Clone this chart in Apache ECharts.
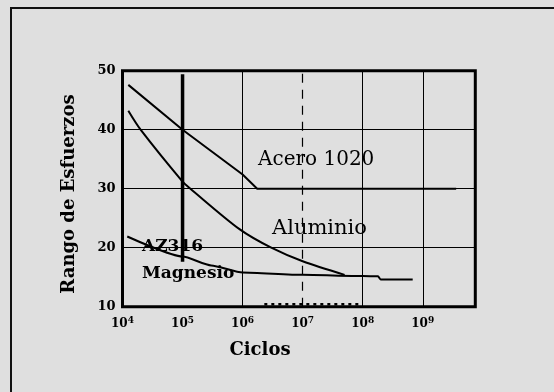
<!DOCTYPE html>
<html>
<head>
<meta charset="utf-8">
<script src="https://cdn.jsdelivr.net/npm/echarts@6/dist/echarts.min.js"></script>
<style>
html,body{margin:0;padding:0;background:#dfdfdf;}
#chart{width:554px;height:392px;}
</style>
</head>
<body>
<div id="chart"></div>
<script>
// ---- data ----
const yTicks = [10, 20, 30, 40, 50];
const xTickExponents = [4, 5, 6, 7, 8, 9];

const cyclesAcero = [1.25e4, 1e5, 1e6, 1.75e6, 3.6e9];
const acero = [47.6, 40, 32.4, 30, 30];

const cyclesAluminio = [1.25e4, 2e4, 1e5, 1.35e5, 9e5, 3e6, 1e7, 5e7];
const aluminio = [43.2, 40, 31.2, 30, 23.1, 20, 17.7, 15.4];

const cyclesMagnesio = [1.2e4, 1e5, 3e5, 1e6, 1e7, 1e8, 1.8e8, 2e8, 6.8e8];
const magnesio = [21.9, 18.5, 17.0, 15.8, 15.4, 15.2, 15.15, 14.6, 14.6];

const cyclesMarker = [1e5, 1e5];
const marker = [49.4, 17.6];

const cyclesBottomDots = [2.3e6, 8.5e7];
const bottomDots = [10.4, 10.4];

const solidVerticals = [1e6, 1e8, 1e9];
const dashedVerticals = [1e7];

function pairs(xs, ys) { return xs.map((x, i) => [x, ys[i]]); }

const chart = echarts.init(document.getElementById('chart'), null, {renderer: 'canvas'});
const serif = '"DejaVu Serif", "Liberation Serif", serif';

const option = {
  backgroundColor: '#dfdfdf',
  animation: false,
  grid: {
    left: 122.5, top: 70.7, right: 78.7, bottom: 85.3,
    show: true, borderColor: '#000', borderWidth: 3, backgroundColor: 'transparent'
  },
  xAxis: {
    type: 'log', logBase: 10, min: 1e4, max: Math.pow(10, 9.875),
    axisLine: {show: false}, axisTick: {show: false},
    splitLine: {show: false},
    axisLabel: {
      margin: 9,
      showMaxLabel: false,
      formatter: function (v) {
        const e = Math.round(Math.log10(v));
        if (Math.abs(Math.log10(v) - e) > 1e-6 || xTickExponents.indexOf(e) < 0) return '';
        return '{b|10}{s|' + e + '}';
      },
      rich: {
        b: {fontFamily: serif, fontSize: 12, fontWeight: 'bold', color: '#000'},
        s: {fontFamily: serif, fontSize: 9, fontWeight: 'bold', color: '#000', verticalAlign: 'bottom', padding: [0, 0, 7, 0]}
      }
    }
  },
  yAxis: {
    type: 'value', min: yTicks[0], max: yTicks[yTicks.length - 1], interval: 10,
    axisLine: {show: false}, axisTick: {show: false},
    splitLine: {show: true, lineStyle: {color: '#000', width: 1}},
    axisLabel: {margin: 7, fontFamily: serif, fontSize: 13, fontWeight: 'bold', color: '#000'}
  },
  series: [
    {
      type: 'line', data: pairs(cyclesAcero, acero), symbol: 'none',
      lineStyle: {color: '#000', width: 2},
      markLine: {
        silent: true, symbol: 'none', label: {show: false},
        lineStyle: {color: '#000', width: 1, type: 'solid'},
        data: solidVerticals.map(v => ({xAxis: v}))
          .concat(dashedVerticals.map(v => ({xAxis: v, lineStyle: {type: [9, 7], width: 1.2, color: '#000'}})))
      },
      z: 3
    },
    {
      type: 'line', data: pairs(cyclesAluminio, aluminio), symbol: 'none', smooth: 0.3,
      lineStyle: {color: '#000', width: 2}, z: 3
    },
    {
      type: 'line', data: pairs(cyclesMagnesio, magnesio), symbol: 'none', smooth: 0.2, smoothMonotone: 'x',
      lineStyle: {color: '#000', width: 2}, z: 3
    },
    {
      type: 'line', data: pairs(cyclesMarker, marker), symbol: 'none',
      lineStyle: {color: '#000', width: 3.5}, z: 3
    },
    {
      type: 'line', data: pairs(cyclesBottomDots, bottomDots), symbol: 'none',
      lineStyle: {color: '#000', width: 2.5, type: [3, 4]}, z: 3
    }
  ],
  graphic: [
    {type: 'rect', shape: {x: 11, y: 8, width: 700, height: 600}, style: {fill: 'none', stroke: '#111', lineWidth: 2}, z: 0},
    {type: 'text', x: 258, y: 160, style: {text: 'Acero 1020', font: 'normal 20px ' + serif, fill: '#000', textVerticalAlign: 'middle'}, z: 10},
    {type: 'text', x: 272, y: 229, style: {text: 'Aluminio', font: 'normal 21px ' + serif, fill: '#000', textVerticalAlign: 'middle'}, z: 10},
    {type: 'text', x: 142, y: 247, style: {text: 'AZ316', font: 'bold 17px ' + serif, fill: '#000', textVerticalAlign: 'middle'}, z: 10},
    {type: 'text', x: 142, y: 274, style: {text: 'Magnesio', font: 'bold 17px ' + serif, fill: '#000', textVerticalAlign: 'middle'}, z: 10},
    {type: 'text', x: 260, y: 350, style: {text: 'Ciclos', font: 'bold 18px ' + serif, fill: '#000', textAlign: 'center', textVerticalAlign: 'middle'}, z: 10},
    {type: 'text', x: 69, y: 194, rotation: Math.PI / 2, style: {text: 'Rango de Esfuerzos', font: 'bold 18px ' + serif, fill: '#000', textAlign: 'center', textVerticalAlign: 'middle'}, z: 10}
  ]
};
chart.setOption(option);
</script>
</body>
</html>
